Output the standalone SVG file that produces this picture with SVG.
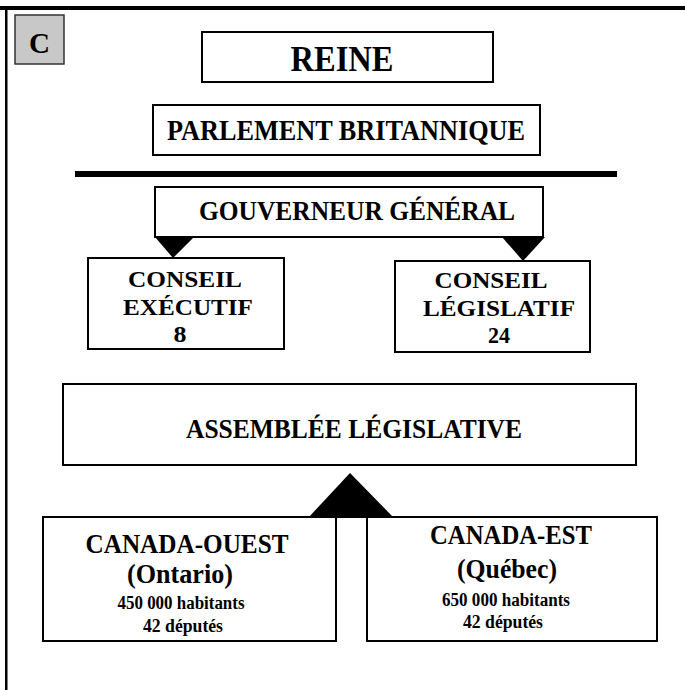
<svg xmlns="http://www.w3.org/2000/svg" width="685" height="690" viewBox="0 0 685 690">
<style>
.box{fill:#fff;stroke:#000;stroke-width:2}
.t{font-family:"Liberation Serif","Times New Roman",serif;font-weight:bold;fill:#000;text-anchor:middle}
.tri{fill:#000;stroke:none}
</style>
<rect x="0" y="0" width="685" height="690" fill="#fff"/>
<g id="frame">
<rect x="0" y="6" width="685" height="4" fill="#000"/>
<rect x="5" y="6" width="2.5" height="684" fill="#000"/>
</g>
<g id="label-c">
<rect x="15" y="15" width="49" height="49" fill="#c8c8c8" stroke="#333" stroke-width="1.5"/>
<text class="t" x="39.5" y="53" font-size="29">C</text>
</g>
<g id="connectors">
<rect x="75" y="171" width="542" height="6" fill="#000"/>
<polygon class="tri" points="155,237 194,237 173,258"/>
<polygon class="tri" points="502,237 545,237 523,261"/>
<polygon class="tri" points="308,518 394,518 350,473"/>
<line x1="336" y1="517" x2="336" y2="641" stroke="#000" stroke-width="2"/>
<line x1="367" y1="517" x2="367" y2="641" stroke="#000" stroke-width="2"/>
</g>
<g id="reine">
<rect class="box" x="202" y="32" width="291" height="50"/>
<text class="t" x="342" y="71" font-size="36" textLength="103" lengthAdjust="spacingAndGlyphs">REINE</text>
</g>
<g id="parlement">
<rect class="box" x="153" y="105" width="387" height="50"/>
<text class="t" x="346" y="140" font-size="29" textLength="358" lengthAdjust="spacingAndGlyphs">PARLEMENT BRITANNIQUE</text>
</g>
<g id="gouverneur">
<rect class="box" x="155" y="187" width="388" height="50"/>
<text class="t" x="357" y="220" font-size="28" textLength="316" lengthAdjust="spacingAndGlyphs">GOUVERNEUR GÉNÉRAL</text>
</g>
<g id="conseil-executif">
<rect class="box" x="88" y="258" width="196" height="91"/>
<text class="t" x="185" y="287" font-size="24" textLength="114" lengthAdjust="spacingAndGlyphs">CONSEIL</text>
<text class="t" x="188" y="315" font-size="24" textLength="130" lengthAdjust="spacingAndGlyphs">EXÉCUTIF</text>
<text class="t" x="180" y="342" font-size="24" textLength="13" lengthAdjust="spacingAndGlyphs">8</text>
</g>
<g id="conseil-legislatif">
<rect class="box" x="395" y="261" width="195" height="91"/>
<text class="t" x="491" y="288" font-size="24" textLength="113" lengthAdjust="spacingAndGlyphs">CONSEIL</text>
<text class="t" x="499" y="316" font-size="24" textLength="152" lengthAdjust="spacingAndGlyphs">LÉGISLATIF</text>
<text class="t" x="499" y="343" font-size="24" textLength="22" lengthAdjust="spacingAndGlyphs">24</text>
</g>
<g id="assemblee">
<rect class="box" x="63" y="384" width="573" height="81"/>
<text class="t" x="354" y="438" font-size="28" textLength="336" lengthAdjust="spacingAndGlyphs">ASSEMBLÉE LÉGISLATIVE</text>
</g>
<g id="canada-ouest">
<rect class="box" x="43" y="517" width="293" height="124"/>
<text class="t" x="187" y="553" font-size="28" textLength="203" lengthAdjust="spacingAndGlyphs">CANADA-OUEST</text>
<text class="t" x="180" y="583" font-size="28" textLength="106" lengthAdjust="spacingAndGlyphs">(Ontario)</text>
<text class="t" x="181" y="609" font-size="18" textLength="127" lengthAdjust="spacingAndGlyphs">450 000 habitants</text>
<text class="t" x="183" y="632" font-size="18" textLength="80" lengthAdjust="spacingAndGlyphs">42 députés</text>
</g>
<g id="canada-est">
<rect class="box" x="367" y="517" width="290" height="124"/>
<text class="t" x="511" y="544" font-size="28" textLength="162" lengthAdjust="spacingAndGlyphs">CANADA-EST</text>
<text class="t" x="507" y="578" font-size="28" textLength="100" lengthAdjust="spacingAndGlyphs">(Québec)</text>
<text class="t" x="506" y="606" font-size="18" textLength="128" lengthAdjust="spacingAndGlyphs">650 000 habitants</text>
<text class="t" x="503" y="628" font-size="18" textLength="80" lengthAdjust="spacingAndGlyphs">42 députés</text>
</g>
</svg>
